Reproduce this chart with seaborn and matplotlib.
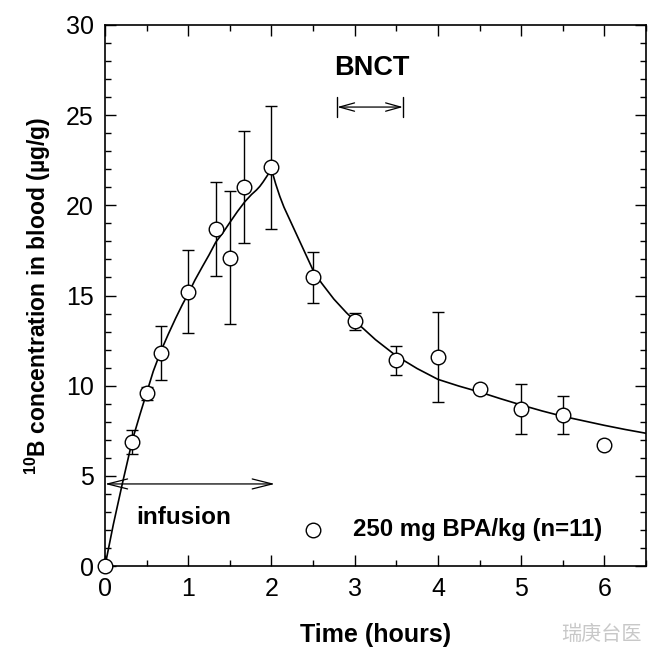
import numpy as np
import pandas as pd
import matplotlib
matplotlib.use("Agg")
import matplotlib.pyplot as plt
import seaborn as sns
from matplotlib.ticker import MultipleLocator

# ---- data ----
time_h = [0, 0.33, 0.5, 0.67, 1.0, 1.33, 1.5, 1.67, 2.0, 2.5, 3.0, 3.5, 4.0, 4.5, 5.0, 5.5, 6.0]
conc = [0, 6.9, 9.6, 11.8, 15.2, 18.7, 17.1, 21.0, 22.1, 16.0, 13.6, 11.4, 11.6, 9.8, 8.7, 8.4, 6.7]
err_upper = [0, 7.55, 9.95, 13.3, 17.5, 21.3, 20.8, 24.1, 25.5, 17.4, 14.05, 12.2, 14.1, 9.8, 10.1, 9.45, 6.7]
err_lower = [0, 6.2, 9.2, 10.3, 12.9, 16.1, 13.4, 17.9, 18.7, 14.6, 13.1, 10.6, 9.1, 9.8, 7.3, 7.3, 6.7]

fit_time = [0, 0.1, 0.21, 0.33, 0.42, 0.5, 0.58, 0.67, 0.76, 0.85, 0.93, 1.0, 1.08, 1.17, 1.25,
            1.33, 1.42, 1.5, 1.59, 1.68, 1.76, 1.82, 1.86, 1.9, 1.95, 2.0,
            2.05, 2.1, 2.15, 2.22, 2.3, 2.4, 2.5, 2.6, 2.75, 2.9, 3.0, 3.25, 3.5, 3.75,
            4.0, 4.25, 4.5, 4.75, 5.0, 5.25, 5.5, 5.75, 6.0, 6.25, 6.5]
fit_conc = [0, 2.3, 4.6, 7.0, 8.4, 9.6, 10.8, 11.9, 12.85, 13.75, 14.5, 15.1, 15.85, 16.6, 17.25,
            17.95, 18.5, 19.05, 19.65, 20.2, 20.6, 20.85, 21.05, 21.3, 21.65, 22.0,
            21.2, 20.5, 19.9, 19.2, 18.4, 17.4, 16.4, 15.7, 14.8, 14.05, 13.6, 12.55, 11.65, 10.95,
            10.35, 9.98, 9.65, 9.28, 8.93, 8.6, 8.3, 8.05, 7.8, 7.57, 7.36]

legend_label = "250 mg BPA/kg (n=11)"
xlabel = "Time (hours)"
ylabel = r"$\mathbf{^{10}}$B concentration in blood (µg/g)"

# ---- style ----
sns.set_theme(style="white")
plt.rcParams["font.family"] = ["Liberation Sans", "DejaVu Sans"]
plt.rcParams["mathtext.fontset"] = "custom"
plt.rcParams["mathtext.rm"] = "Liberation Sans"
plt.rcParams["mathtext.bf"] = "Liberation Sans:bold"
for k in ["text.color", "axes.labelcolor", "xtick.color", "ytick.color"]:
    plt.rcParams[k] = "black"

fig = plt.figure(figsize=(6.65, 6.51), dpi=100)
ax = fig.add_axes([105/665, 1-566/651, (646-105)/665, (566-25)/651])

df = pd.DataFrame({"t": time_h, "c": conc})
fit_df = pd.DataFrame({"t": fit_time, "c": fit_conc})

sns.lineplot(data=fit_df, x="t", y="c", ax=ax, color="black", linewidth=1.2, zorder=2)

yerr = np.array([np.array(conc) - np.array(err_lower), np.array(err_upper) - np.array(conc)])
ax.errorbar(time_h, conc, yerr=yerr, fmt="none", ecolor="black", elinewidth=1.0,
            capsize=4.5, capthick=1.0, zorder=3)
sns.scatterplot(data=df, x="t", y="c", ax=ax, marker="o", s=110, facecolor="white",
                edgecolor="black", linewidth=1.0, zorder=4, clip_on=False)

ax.set_xlim(0, 6.5)
ax.set_ylim(0, 30)
ax.xaxis.set_major_locator(MultipleLocator(1))
ax.xaxis.set_minor_locator(MultipleLocator(0.5))
ax.yaxis.set_major_locator(MultipleLocator(5))
ax.yaxis.set_minor_locator(MultipleLocator(1))
ax.tick_params(which="both", direction="in", top=True, right=True, bottom=True, left=True,
               color="black", width=1.0)
ax.tick_params(which="major", length=8, labelsize=18, pad=8)
ax.tick_params(which="minor", length=4)
for s in ax.spines.values():
    s.set_color("black")
    s.set_linewidth(1.2)

ax.set_xlabel(xlabel, fontsize=18, fontweight="bold", labelpad=16)
ax.set_ylabel(ylabel, fontsize=16.5, fontweight="bold", labelpad=9)

# annotations
ax.annotate("", xy=(2.04, 4.55), xytext=(0.0, 4.55),
            arrowprops=dict(arrowstyle="<->,head_length=1.2,head_width=0.3", color="black", lw=0.9,
                            shrinkA=0, shrinkB=0))
ax.text(0.94, 2.7, "infusion", fontsize=17.5, fontweight="bold", ha="center", va="center")

ax.annotate("", xy=(3.58, 25.45), xytext=(2.79, 25.45),
            arrowprops=dict(arrowstyle="<->,head_length=0.9,head_width=0.25", color="black", lw=0.9,
                            shrinkA=0, shrinkB=0))
ax.plot([2.79, 2.79], [24.9, 26.0], color="black", lw=1.0)
ax.plot([3.58, 3.58], [24.9, 26.0], color="black", lw=1.0)
ax.text(3.2, 27.6, "BNCT", fontsize=19.5, fontweight="bold", ha="center", va="center")

# legend-like entry
ax.scatter([2.5], [2.0], s=110, facecolor="white", edgecolor="black", linewidth=1.0, zorder=4)
ax.text(2.98, 2.0, legend_label, fontsize=17.3, fontweight="bold", ha="left", va="center")

fig.text(601/665, 1-634/651, "瑞庚台医", fontsize=14.5, color="#c8c8c8", ha="center", va="center",
         family=["Noto Sans CJK SC", "DejaVu Sans"])

fig.savefig("out.png", dpi=100)
